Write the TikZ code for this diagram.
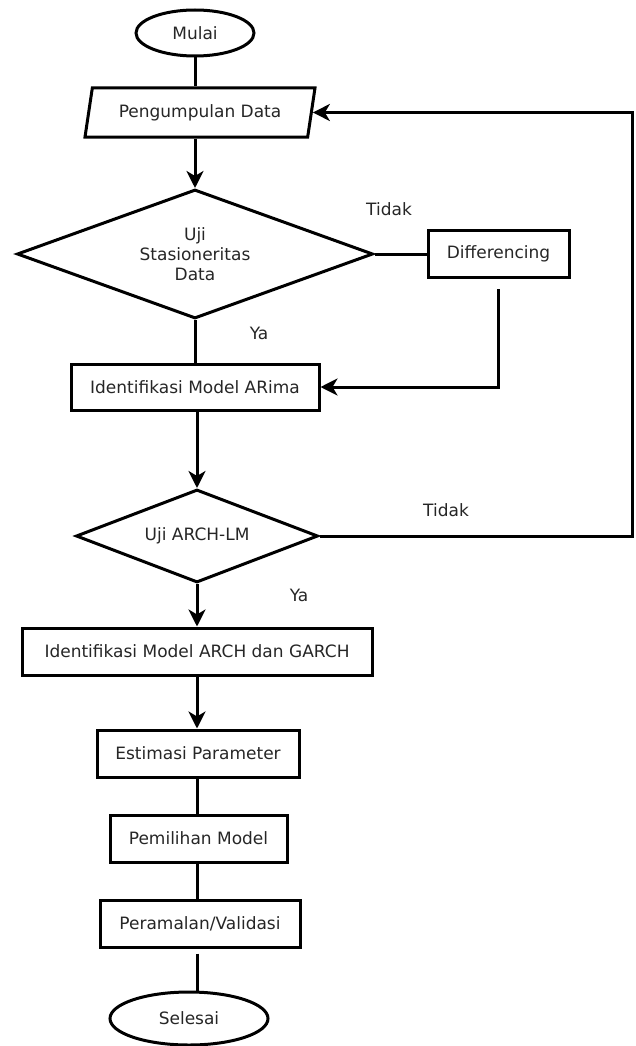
\documentclass[tikz,border=0pt]{standalone}
\usepackage{fontspec}
\setmainfont{DejaVu Sans}
\usetikzlibrary{shapes.geometric,arrows.meta}
\begin{document}
\begin{tikzpicture}[x=1pt,y=-1pt,
  every node/.style={font=\fontsize{17}{20}\selectfont, text=black!85},
  line/.style={line width=3pt, draw=black},
  arr/.style={line, -{Stealth[length=17pt,width=17pt,inset=5pt]}},
  proc/.style={draw, line width=3pt, rectangle, inner sep=0pt, minimum height=47pt},
  term/.style={draw, line width=3pt, ellipse, inner sep=0pt},
  dec/.style={draw, line width=3pt, diamond, inner sep=0pt, align=center},
  lab/.style={inner sep=0pt}]
\useasboundingbox (0,0) rectangle (635,1046);

\node[term, minimum width=118pt, minimum height=46pt] (start) at (195,33) {Mulai};
\node[draw, line width=3pt, trapezium, trapezium left angle=66, trapezium right angle=114,
      trapezium stretches body, minimum width=230pt, minimum height=49pt, inner sep=0pt]
      (data) at (200,112.5) {Pengumpulan Data};
\node[dec, aspect=2.76, minimum width=356pt, minimum height=129pt] (d1) at (195,254) {Uji\\Stasioneritas\\Data};
\node[proc, minimum width=141pt] (diff) at (498.5,254) {Differencing};
\node[proc, minimum width=248pt, minimum height=46pt] (arima) at (195,387) {Identifikasi Model ARima};
\node[dec, aspect=2.6, minimum width=242pt, minimum height=93pt] (d2) at (197,536) {Uji ARCH-LM};
\node[proc, minimum width=350pt] (garch) at (197,651.5) {Identifikasi Model ARCH dan GARCH};
\node[proc, minimum width=202pt] (est) at (198,753.5) {Estimasi Parameter};
\node[proc, minimum width=177pt] (pil) at (198.5,838.5) {Pemilihan Model};
\node[proc, minimum width=200pt] (ram) at (200,923.5) {Peramalan/Validasi};
\node[term, minimum width=158pt, minimum height=53pt] (end) at (189,1018.5) {Selesai};

\node[lab] (t1) at (389,209) {Tidak};
\node[lab] (y1) at (259,333) {Ya};
\node[lab] (t2) at (446,510) {Tidak};
\node[lab] (y2) at (299,595) {Ya};

\coordinate (rc) at (632,0);

\draw[line] (start.south) -- (start.south |- data.north);
\draw[arr] (d1.north |- data.south) -- (d1.north);
\draw[line] (d1.east) -- (diff.west);
\draw[arr, shorten <=10pt] (diff.south) |- (arima.east);
\draw[line] (d1.south) -- (arima.north);
\draw[arr] (arima.south -| d2.north) -- (d2.north);
\draw[arr] (d2.east) -| (rc |- data.east) -- (data.east);
\draw[arr] (d2.south) -- (d2.south |- garch.north);
\draw[arr] (d2.south |- garch.south) -- (d2.south |- est.north);
\draw[line] (d2.south |- est.south) -- (d2.south |- pil.north);
\draw[line] (d2.south |- pil.south) -- (d2.south |- ram.north);
\draw[line, shorten <=5pt] (d2.south |- ram.south) -- (d2.south |- end.north);
\end{tikzpicture}
\end{document}
